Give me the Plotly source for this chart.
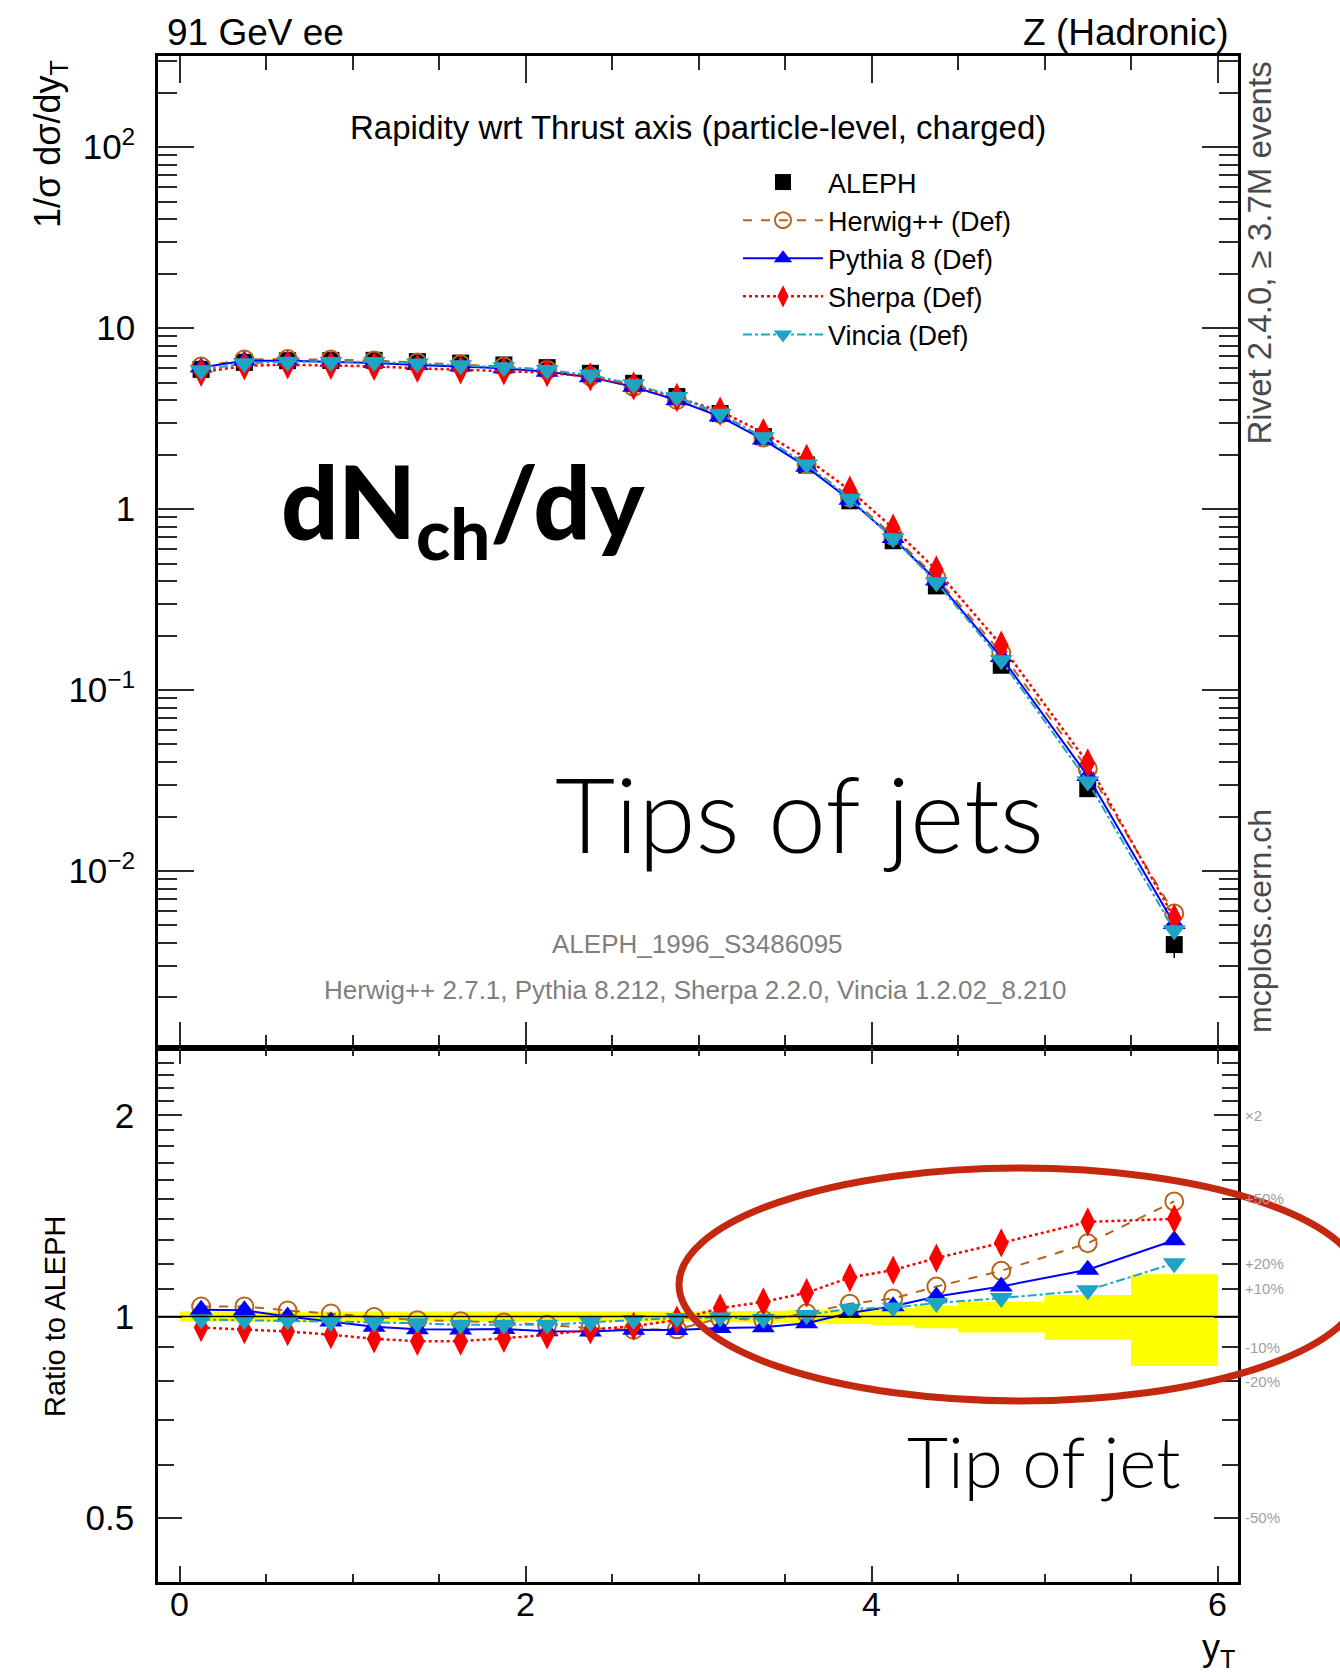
import math
import plotly.graph_objects as go

# ---------------- data ----------------
bin_edges = [0.0, 0.25, 0.5, 0.75, 1.0, 1.25, 1.5, 1.75, 2.0, 2.25, 2.5, 2.75,
             3.0, 3.25, 3.5, 3.75, 4.0, 4.25, 4.5, 5.0, 5.5, 6.0]
y_T = [0.125, 0.375, 0.625, 0.875, 1.125, 1.375, 1.625, 1.875, 2.125, 2.375, 2.625,
       2.875, 3.125, 3.375, 3.625, 3.875, 4.125, 4.375, 4.75, 5.25, 5.75]

aleph = [5.91, 6.46, 6.60, 6.62, 6.63, 6.52, 6.40, 6.25, 6.04, 5.62, 4.95,
         4.18, 3.37, 2.51, 1.75, 1.11, 0.668, 0.376, 0.137, 0.0285, 0.00392]
aleph_err = [0.106, 0.110, 0.106, 0.106, 0.106, 0.104, 0.102, 0.100, 0.097, 0.090, 0.084,
             0.075, 0.064, 0.050, 0.0385, 0.0278, 0.0200, 0.0147, 0.00726, 0.00219, 0.000615]
herwig = [6.12, 6.69, 6.74, 6.69, 6.62, 6.44, 6.30, 6.125, 5.87, 5.40, 4.73,
          4.00, 3.35, 2.48, 1.77, 1.16, 0.711, 0.417, 0.1604, 0.0367, 0.00583]
pythia = [6.05, 6.60, 6.60, 6.51, 6.40, 6.24, 6.12, 5.99, 5.74, 5.34, 4.73,
          3.99, 3.24, 2.42, 1.71, 1.124, 0.692, 0.403, 0.152, 0.0335, 0.00510]
sherpa = [5.69, 6.18, 6.27, 6.22, 6.14, 5.99, 5.88, 5.80, 5.67, 5.37, 4.79,
          4.13, 3.47, 2.64, 1.90, 1.27, 0.784, 0.460, 0.1766, 0.0395, 0.00549]
vincia = [5.85, 6.38, 6.51, 6.50, 6.50, 6.37, 6.22, 6.075, 5.87, 5.51, 4.89,
          4.16, 3.36, 2.49, 1.76, 1.14, 0.689, 0.394, 0.146, 0.0312, 0.00471]

series_names = ["Herwig++ (Def)", "Pythia 8 (Def)", "Sherpa (Def)", "Vincia (Def)"]
x_tick_vals = [0, 2, 4, 6]
y_tick_vals = [0.01, 0.1, 1, 10, 100]
y_tick_text = ["10<sup>\u22122</sup>", "10<sup>\u22121</sup>", "1", "10", "10<sup>2</sup>"]
ratio_tick_vals = [0.5, 1, 2]
ratio_tick_text = ["0.5", "1", "2"]
ratio_side_vals = [2, 1.5, 1.2, 1.1, 0.9, 0.8, 0.5]
ratio_side_text = ["\u00d72", "+50%", "+20%", "+10%", "-10%", "-20%", "-50%"]

# ---------------- styles ----------------
FONT = "Liberation Sans"
styles = [
    dict(color="#b5651d", symbol="circle-open", size=18, dash="dash", lw=2),
    dict(color="#0000ff", symbol="triangle-up", size=20, dash="solid", lw=2),
    dict(color="#ff0000", symbol="diamond-tall", size=21, dash="dot", lw=2.5),
    dict(color="#1ea5c4", symbol="triangle-down", size=20, dash="dashdot", lw=2),
]

W, H = 1340, 1672
ML, MR, MT, MB = 158, 102, 56, 90
PW, PH = W - ML - MR, H - MT - MB
SPLIT = 0.3497
XR = [-0.1243, 6.1185]


def px(xpix):
    return (xpix - ML) / PW


def py(ypix):
    return (H - MB - ypix) / PH


fig = go.Figure()

# ---- top panel ----
fig.add_trace(go.Scatter(
    x=y_T, y=aleph, mode="markers", name="ALEPH",
    marker=dict(symbol="square", size=17, color="black"),
    error_y=dict(type="data", array=aleph_err, color="black", thickness=1.5, width=0),
    xaxis="x", yaxis="y"))

mc_series = [herwig, pythia, sherpa, vincia]
for name, vals, st in zip(series_names, mc_series, styles):
    mk = dict(symbol=st["symbol"], size=st["size"], color=st["color"])
    if st["symbol"].endswith("open"):
        mk["line"] = dict(width=2, color=st["color"])
    fig.add_trace(go.Scatter(
        x=y_T, y=vals, mode="lines+markers", name=name,
        line=dict(color=st["color"], dash=st["dash"], width=st["lw"]),
        marker=mk, xaxis="x", yaxis="y"))

# ---- ratio panel ----
band_x, band_y = [], []
for i in range(len(y_T)):
    band_x += [bin_edges[i], bin_edges[i + 1]]
    band_y += [1 + aleph_err[i] / aleph[i]] * 2
for i in reversed(range(len(y_T))):
    band_x += [bin_edges[i + 1], bin_edges[i]]
    band_y += [1 - aleph_err[i] / aleph[i]] * 2
fig.add_trace(go.Scatter(
    x=band_x, y=band_y, mode="lines", fill="toself", fillcolor="#ffff00",
    line=dict(width=0, color="#ffff00"), showlegend=False, hoverinfo="skip",
    xaxis="x2", yaxis="y2"))

for name, vals, st in zip(series_names, mc_series, styles):
    ratio = [m / a for m, a in zip(vals, aleph)]
    mk = dict(symbol=st["symbol"], size=st["size"], color=st["color"])
    if st["symbol"].endswith("open"):
        mk["line"] = dict(width=2, color=st["color"])
    fig.add_trace(go.Scatter(
        x=y_T, y=ratio, mode="lines+markers", name=name, showlegend=False,
        line=dict(color=st["color"], dash=st["dash"], width=st["lw"]),
        marker=mk, xaxis="x2", yaxis="y2"))

# ---------------- axes ----------------
minor_log = [m * 10.0 ** e for e in range(-4, 3) for m in range(2, 10)]
minor_ratio = [0.6, 0.7, 0.8, 0.9, 1.1, 1.2, 1.3, 1.4, 1.5, 1.6, 1.7, 1.8, 1.9,
               2.1, 2.2, 2.3, 2.4]
TICKC = "#2a2a2a"

common_line = dict(showline=True, linecolor="black", linewidth=2.5, mirror="allticks",
                   showgrid=False, zeroline=False, tickcolor=TICKC, tickwidth=2)

fig.update_layout(
    width=W, height=H,
    margin=dict(l=ML, r=MR, t=MT, b=MB, autoexpand=False),
    paper_bgcolor="white", plot_bgcolor="white",
    font=dict(family=FONT, color="black", size=30),
    xaxis=dict(domain=[0, 1], anchor="y", range=XR, ticks="inside",
               tickvals=x_tick_vals, ticklen=27, showticklabels=False,
               minor=dict(dtick=0.5, tick0=0, ticks="inside", ticklen=14,
                          tickcolor=TICKC, tickwidth=2),
               **common_line),
    yaxis=dict(domain=[SPLIT, 1], anchor="x", type="log", range=[-2.980, 2.503],
               ticks="inside", tickvals=y_tick_vals, ticktext=y_tick_text, ticklen=36,
               tickfont=dict(size=35, family=FONT), ticklabelstandoff=13,
               minor=dict(tickvals=minor_log, ticks="inside", ticklen=19,
                          tickcolor=TICKC, tickwidth=2),
               **common_line),
    xaxis2=dict(domain=[0, 1], anchor="y2", range=XR, ticks="inside",
                tickvals=x_tick_vals, ticktext=[str(v) for v in x_tick_vals], ticklen=16,
                tickfont=dict(size=34, family=FONT), ticklabelstandoff=-10,
                minor=dict(dtick=0.5, tick0=0, ticks="inside", ticklen=8,
                           tickcolor=TICKC, tickwidth=2),
                **common_line),
    yaxis2=dict(domain=[0, SPLIT], anchor="x2", type="log", range=[-0.3973, 0.4015],
                ticks="inside", tickvals=ratio_tick_vals, ticktext=ratio_tick_text,
                ticklen=24, tickfont=dict(size=35, family=FONT), ticklabelstandoff=14,
                minor=dict(tickvals=minor_ratio, ticks="inside", ticklen=16,
                           tickcolor=TICKC, tickwidth=2),
                **common_line),
    legend=dict(x=px(738), y=py(158), xanchor="left", yanchor="top",
                font=dict(size=27, family=FONT), bgcolor="rgba(0,0,0,0)",
                itemwidth=80, tracegroupgap=0, traceorder="normal"),
    showlegend=True,
)

# reference line at ratio 1
fig.add_shape(type="line", xref="x2 domain", x0=0, x1=1, yref="y2", y0=1, y1=1,
              line=dict(color="black", width=1.5), layer="above")

# hand-drawn style ellipse
fig.add_shape(type="circle", xref="paper", yref="paper",
              x0=px(679), x1=px(1362), y0=py(1401), y1=py(1168),
              line=dict(color="#c4290f", width=7), layer="above")


def add_text(text, x, y, size, color="black", xanchor="center", yanchor="middle",
             angle=0, family=FONT, weight=None, yref="paper"):
    f = dict(size=size, color=color, family=family)
    if weight is not None:
        f["weight"] = weight
    fig.add_annotation(text=text, x=x, y=y, xref="paper", yref=yref,
                       xanchor=xanchor, yanchor=yanchor, textangle=angle,
                       showarrow=False, font=f)


# percentage labels at the right of the ratio panel
for v, t in zip(ratio_side_vals, ratio_side_text):
    add_text(t, px(1243), math.log10(v), 15, color="#a0a0a0", xanchor="left", yref="y2")

add_text("91 GeV ee", px(165), py(33), 37, xanchor="left")
add_text("Z (Hadronic)", px(1231), py(33), 37, xanchor="right")
add_text("Rapidity wrt Thrust axis (particle-level, charged)", px(698), py(128), 33)
add_text("ALEPH_1996_S3486095", px(697), py(944), 26, color="#7f7f7f")
add_text("Herwig++ 2.7.1, Pythia 8.212, Sherpa 2.2.0, Vincia 1.2.02_8.210",
         px(695), py(990), 26, color="#7f7f7f")
add_text("Rivet 2.4.0, \u2265 3.7M events", px(1259), py(60), 33, color="#4a4a4a",
         yanchor="top", angle=-90)
add_text("mcplots.cern.ch", px(1260), py(921), 32, color="#4a4a4a", angle=-90)
add_text("1/\u03c3 d\u03c3/dy<sub>T</sub>", px(50), py(58), 36, yanchor="top", angle=-90)
add_text("Ratio to ALEPH", px(55), py(1316), 29, angle=-90)
add_text("y<sub>T</sub>", px(1237), py(1650), 36, xanchor="right")
add_text("dN<sub>ch</sub>/dy", px(279), py(507), 101, xanchor="left", family="Lato", weight=900)
add_text("Tips of jets", px(553), py(812), 104, xanchor="left", family="Lato", weight=300)
add_text("Tip of jet", px(905), py(1460), 71, xanchor="left", family="Lato", weight=300)

fig.write_html("out.html")
